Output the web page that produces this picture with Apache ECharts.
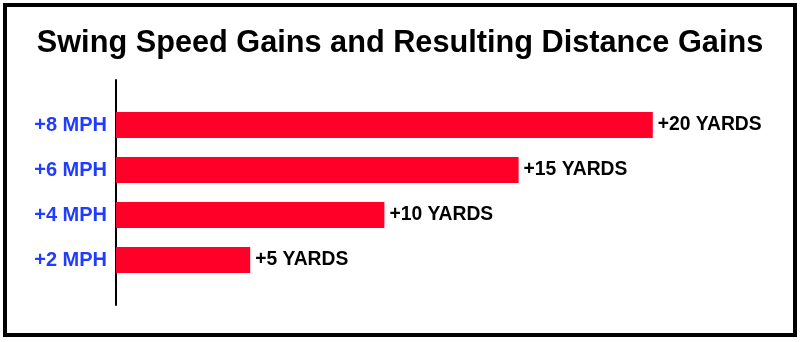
<!DOCTYPE html>
<html>
<head>
<meta charset="utf-8">
<script src="https://cdn.jsdelivr.net/npm/echarts@6/dist/echarts.min.js"></script>
<style>
  html, body { margin: 0; padding: 0; background: #fff; }
  #frame { position: absolute; left: 3px; top: 3px; width: 786px; height: 326px; border: 4px solid #000; }
  #chart { position: absolute; left: 0; top: 0; width: 800px; height: 342px; }
</style>
</head>
<body>
<div id="frame"></div>
<div id="chart"></div>
<script>
// Swing speed gains (category labels, bottom to top) and the distance each one adds
const speedGains = ['', '+2 MPH', '+4 MPH', '+6 MPH', '+8 MPH', ''];
const yardGains = ['-', 5, 10, 15, 20, '-'];
const titleText = 'Swing Speed Gains and Resulting Distance Gains';

const chart = echarts.init(document.getElementById('chart'), null, { renderer: 'canvas' });
chart.setOption({
  backgroundColor: 'transparent',
  animation: false,
  title: {
    text: titleText,
    left: 'center',
    top: 23,
    textStyle: { fontFamily: 'Liberation Sans, Arial, sans-serif', fontWeight: 'bold', fontSize: 30.7, color: '#000' }
  },
  grid: { left: 116, right: 13, top: 80, bottom: 37 },
  xAxis: {
    type: 'value', min: 0, max: 25,
    show: false
  },
  yAxis: {
    type: 'category',
    data: speedGains,
    boundaryGap: false,
    axisLine: { show: true, lineStyle: { color: '#000', width: 2 } },
    axisTick: { show: false },
    splitLine: { show: false },
    axisLabel: {
      margin: 9,
      color: '#1f3cff',
      fontFamily: 'Liberation Sans, Arial, sans-serif',
      fontWeight: 'bold',
      fontSize: 20
    }
  },
  series: [{
    type: 'bar',
    data: yardGains,
    barWidth: 26,
    itemStyle: { color: '#ff0028' },
    label: {
      show: true,
      position: 'right',
      distance: 5,
      formatter: p => '+' + p.value + ' YARDS',
      color: '#000',
      fontFamily: 'Liberation Sans, Arial, sans-serif',
      fontWeight: 'bold',
      fontSize: 19.3
    }
  }]
});
</script>
</body>
</html>
